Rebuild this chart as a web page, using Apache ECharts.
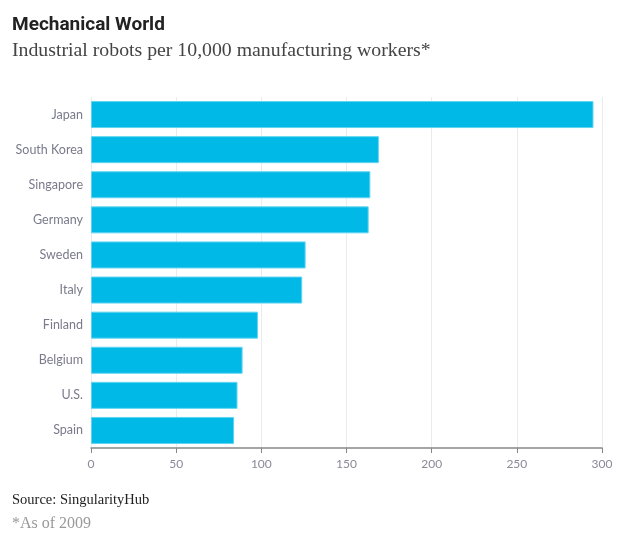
<!DOCTYPE html>
<html><head><meta charset="utf-8">
<script src="https://cdn.jsdelivr.net/npm/echarts@6/dist/echarts.min.js"></script>
<style>html,body{margin:0;padding:0;background:#fff}#c{width:640px;height:548px}</style>
</head><body><div id="c"></div>
<script>
const categories = ["Japan","South Korea","Singapore","Germany","Sweden","Italy","Finland","Belgium","U.S.","Spain"];
const values = [295,169,164,163,126,124,98,89,86,84];
const xTicks = [0,50,100,150,200,250,300];

const chart = echarts.init(document.getElementById('c'));
chart.setOption({
  animation:false,
  backgroundColor:'#fff',
  title:[
    {text:'Mechanical World',left:7,top:11,textStyle:{fontFamily:'Roboto, "Noto Sans", sans-serif',fontSize:19,fontWeight:'bold',color:'#222'}},
    {text:'Industrial robots per 10,000 manufacturing workers*',left:7,top:36,textStyle:{fontFamily:'"Liberation Serif","DejaVu Serif",serif',fontSize:19.8,fontWeight:'normal',color:'#444'}},
    {text:'Source: SingularityHub',left:7,top:488,textStyle:{fontFamily:'"Liberation Serif","DejaVu Serif",serif',fontSize:14.5,fontWeight:'normal',color:'#222'}},
    {text:'*As of 2009',left:7,top:511,textStyle:{fontFamily:'"Liberation Serif","DejaVu Serif",serif',fontSize:16,fontWeight:'normal',color:'#999'}}
  ],
  grid:{left:91,right:38,top:97,bottom:100,containLabel:false},
  xAxis:{
    type:'value',min:0,max:300,interval:50,
    axisLine:{show:true,lineStyle:{color:'#888',width:1.5}},
    axisTick:{show:true,length:5,lineStyle:{color:'#888'}},
    axisLabel:{margin:10,color:'#8a8a99',fontSize:12,fontFamily:'Lato, "Noto Sans", sans-serif',
      formatter:function(v){return xTicks.indexOf(v)>=0?String(v):'';}},
    splitLine:{show:true,lineStyle:{color:'#ebebeb',width:1}}
  },
  yAxis:{
    type:'category',data:categories,inverse:true,
    axisLine:{show:false},axisTick:{show:false},
    axisLabel:{margin:8,color:'#7a7a8c',fontSize:12.5,fontFamily:'Lato, "Noto Sans", sans-serif'}
  },
  series:[{
    type:'bar',data:values,barWidth:27,
    itemStyle:{color:'#00b9e6',borderColor:'#5fd4f2',borderWidth:1}
  }]
});
</script></body></html>
